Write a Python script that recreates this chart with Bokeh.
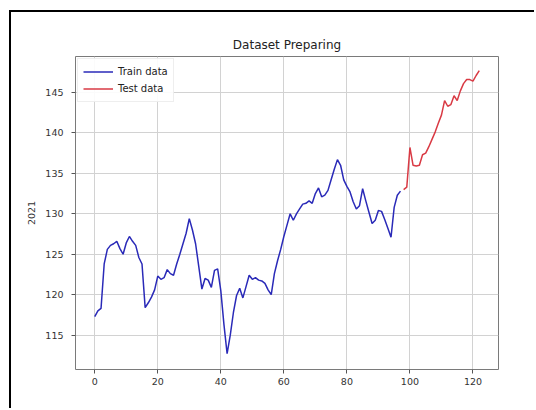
from bokeh.plotting import figure
from bokeh.models import FixedTicker, Legend, LegendItem
from bokeh.embed import file_html
from bokeh.resources import INLINE

train_y = [117.3, 118.0, 118.3, 123.8, 125.6, 126.1, 126.3, 126.6, 125.7, 125.0,
           126.4, 127.2, 126.6, 126.1, 124.6, 123.8, 118.4, 119.0, 119.7, 120.6,
           122.3, 121.9, 122.1, 123.1, 122.6, 122.4, 123.8, 125.0, 126.3, 127.6,
           129.4, 128.0, 126.3, 123.5, 120.7, 122.0, 121.8, 120.9, 123.0, 123.2,
           120.5, 116.3, 112.7, 115.0, 117.8, 119.9, 120.8, 119.6, 121.0, 122.4,
           121.9, 122.1, 121.8, 121.7, 121.4, 120.6, 120.0, 122.6, 124.2, 125.6,
           127.2, 128.6, 130.0, 129.2, 130.0, 130.6, 131.2, 131.3, 131.6, 131.3,
           132.5, 133.2, 132.1, 132.3, 132.9, 134.2, 135.5, 136.7, 136.0, 134.2,
           133.4, 132.7, 131.5, 130.6, 131.0, 133.1, 131.6, 130.2, 128.8, 129.2,
           130.4, 130.3, 129.3, 128.2, 127.1, 130.8, 132.3, 132.8]
test_y = [133.0, 133.3, 138.2, 136.0, 135.9, 136.0, 137.3, 137.5, 138.3, 139.2,
          140.1, 141.2, 142.2, 144.0, 143.3, 143.5, 144.6, 144.0, 145.2, 146.1,
          146.6, 146.6, 146.4, 147.1, 147.7]
train_x = list(range(len(train_y)))
test_x = list(range(len(train_y), len(train_y) + len(test_y)))

x_ticks = [0, 20, 40, 60, 80, 100, 120]
y_ticks = [115, 120, 125, 130, 135, 140, 145]

FONT = "DejaVu Sans"

p = figure(width=525, height=398, output_backend="svg", toolbar_location=None,
           x_range=(-6.1, 128.1), y_range=(110.75, 149.45),
           title="Dataset Preparing",
           min_border_left=64, min_border_right=38, min_border_top=44, min_border_bottom=41)
p.margin = (10, 0, 0, 9)
p.styles = {"border-top": "2px solid black", "border-left": "2px solid black"}

p.title.align = "center"
p.title.text_font = FONT
p.title.text_font_size = "12px"
p.title.text_font_style = "normal"
p.title.text_color = "#222222"
p.title.offset = 0

p.outline_line_color = "#7a7a7a"
p.outline_line_width = 1
p.background_fill_color = "white"
p.border_fill_color = "white"

for ax in (p.xaxis[0], p.yaxis[0]):
    ax.axis_line_color = None
    ax.major_tick_line_color = "#555555"
    ax.major_tick_out = 4
    ax.major_tick_in = 0
    ax.minor_tick_line_color = None
    ax.major_label_text_font = FONT
    ax.major_label_text_font_size = "9.5px"
    ax.major_label_text_color = "#333333"
    ax.major_label_standoff = 4

p.yaxis[0].major_label_standoff = 8
p.xaxis[0].ticker = FixedTicker(ticks=x_ticks)
p.yaxis[0].ticker = FixedTicker(ticks=y_ticks)
p.yaxis[0].axis_label = "2021"
p.yaxis[0].axis_label_text_font = FONT
p.yaxis[0].axis_label_text_font_size = "9.5px"
p.yaxis[0].axis_label_text_font_style = "normal"
p.yaxis[0].axis_label_text_color = "#333333"
p.yaxis[0].axis_label_standoff = 7

p.xgrid.grid_line_color = "#d2d2d2"
p.ygrid.grid_line_color = "#d2d2d2"
p.xgrid.ticker = FixedTicker(ticks=x_ticks)
p.ygrid.ticker = FixedTicker(ticks=y_ticks)

r1 = p.line(train_x, train_y, line_color="#2a2ab8", line_width=1.5)
r2 = p.line(test_x, test_y, line_color="#d93a44", line_width=1.5)

legend = Legend(items=[LegendItem(label="Train data", renderers=[r1]),
                       LegendItem(label="Test data", renderers=[r2])],
                location="top_left")
legend.margin = 2
legend.padding = 5
legend.spacing = 2
legend.glyph_width = 30
legend.glyph_height = 15
legend.label_text_font = FONT
legend.label_text_font_size = "10px"
legend.label_text_color = "#222222"
legend.border_line_color = "#dddddd"
legend.background_fill_alpha = 0.9
p.add_layout(legend)

open("out.html", "w").write(file_html(p, INLINE))
